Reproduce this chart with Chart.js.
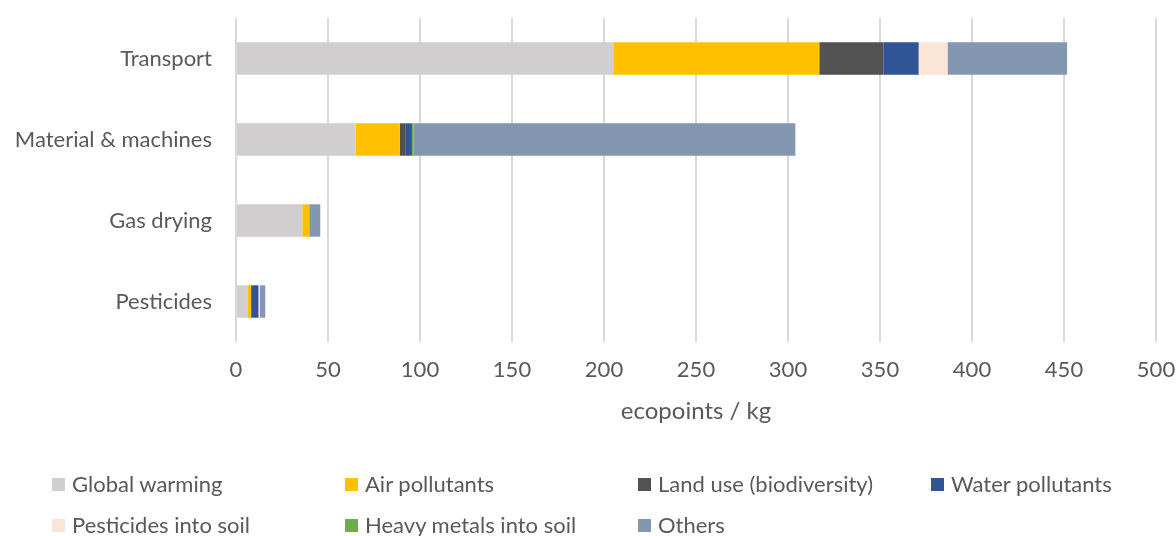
<!DOCTYPE html>
<html>
<head>
<meta charset="utf-8">
<script src="https://cdn.jsdelivr.net/npm/chart.js@4/dist/chart.umd.min.js"></script>
<style>
body { margin: 0; background: #fff; }
#wrap { position: relative; width: 1176px; height: 536px; }
#legend { position: absolute; left: 0; top: 0; width: 1176px; height: 536px; font-family: Lato, sans-serif; font-size: 22px; color: #595959; pointer-events: none; }
.item { position: absolute; display: flex; align-items: center; white-space: nowrap; line-height: 1; transform: translateY(-50%); }
.box { width: 13px; height: 13px; margin-right: 7px; }
</style>
</head>
<body>
<div id="wrap">
  <canvas id="chart" width="1176" height="536"></canvas>
  <div id="legend"></div>
</div>
<script>
var categories = ['Transport', 'Material & machines', 'Gas drying', 'Pesticides'];

var globalWarming = [205, 65, 36, 6.5];
var airPollutants = [112, 24, 3.8, 1.7];
var landUse = [35, 3.3, 0, 0];
var waterPollutants = [19, 3.3, 0, 4];
var pesticidesSoil = [15.7, 0, 0, 0.8];
var heavyMetals = [0, 0.8, 0, 0];
var others = [65, 207.6, 6, 2.9];

var xTicks = [0, 50, 100, 150, 200, 250, 300, 350, 400, 450, 500];

var font = 'Lato';
var textColor = '#595959';

var dataset = [
    { label: 'Global warming', data: globalWarming, backgroundColor: '#d0cece' },
    { label: 'Air pollutants', data: airPollutants, backgroundColor: '#ffc000' },
    { label: 'Land use (biodiversity)', data: landUse, backgroundColor: '#525252' },
    { label: 'Water pollutants', data: waterPollutants, backgroundColor: '#2f5597' },
    { label: 'Pesticides into soil', data: pesticidesSoil, backgroundColor: '#fbe5d6' },
    { label: 'Heavy metals into soil', data: heavyMetals, backgroundColor: '#70ad47' },
    { label: 'Others', data: others, backgroundColor: '#8497b0' }
];
dataset.forEach(function (d) {
    d.borderWidth = 0;
    d.barPercentage = 0.4;
    d.categoryPercentage = 1;
});

var ctx = document.getElementById('chart').getContext('2d');
var chart = new Chart(ctx, {
    type: 'bar',
    data: {
        labels: categories,
        datasets: dataset
    },
    options: {
        indexAxis: 'y',
        responsive: false,
        animation: false,
        layout: { padding: { top: 18, right: 0, left: 0, bottom: 106 } },
        plugins: {
            legend: { display: false },
            tooltip: { enabled: false }
        },
        scales: {
            x: {
                stacked: true,
                min: 0,
                max: 500,
                afterBuildTicks: function (scale) {
                    scale.ticks = xTicks.map(function (v) { return { value: v }; });
                },
                afterFit: function (scale) { scale.height = 88; scale.paddingRight = 20; },
                grid: { color: '#d9d9d9', lineWidth: 2, drawTicks: false },
                border: { display: false },
                ticks: { padding: 15, color: textColor, font: { family: font, size: 22 } },
                title: {
                    display: true,
                    text: 'ecopoints / kg',
                    color: textColor,
                    font: { family: font, size: 24 },
                    padding: { top: 0, bottom: 4 }
                }
            },
            y: {
                stacked: true,
                afterFit: function (scale) {
                    scale.width = 236;
                    scale.paddingTop = 0;
                    scale.paddingBottom = 0;
                },
                grid: { display: false, drawTicks: false },
                border: { display: false },
                ticks: { padding: 24, color: textColor, font: { family: font, size: 22 } }
            }
        }
    }
});

// legend laid out in columns like the original
var legend = document.getElementById('legend');
dataset.forEach(function (d, i) {
    var col = i % 4;
    var row = Math.floor(i / 4);
    var item = document.createElement('div');
    item.className = 'item';
    item.style.left = (52 + col * 293) + 'px';
    item.style.top = (484 + row * 41) + 'px';
    var box = document.createElement('span');
    box.className = 'box';
    box.style.background = d.backgroundColor;
    var txt = document.createElement('span');
    txt.textContent = d.label;
    item.appendChild(box);
    item.appendChild(txt);
    legend.appendChild(item);
});
</script>
</body>
</html>
